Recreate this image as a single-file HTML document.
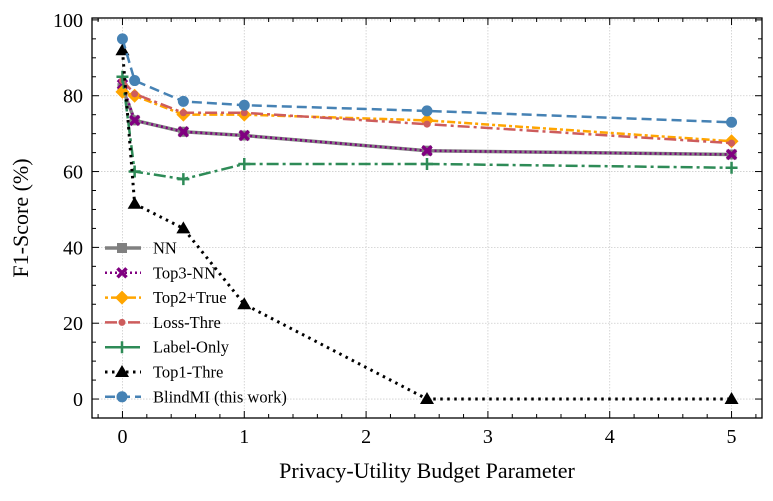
<!DOCTYPE html>
<html><head><meta charset="utf-8"><style>
body{margin:0;background:#fff}
svg text{font-family:"Liberation Serif",serif;fill:#000}
</style></head><body>
<svg id="c" width="773" height="496"></svg>
<script>
const xs=[0,0.1,0.5,1,2.5,5];
const nn=[82,73.5,70.5,69.5,65.5,64.5];
const top3=[83,73.5,70.5,69.5,65.5,64.5];
const top2=[81,80,75,75,73.5,68];
const loss=[84,80.5,75.5,75.5,72.5,67.5];
const labelOnly=[85,60,58,62,62,61];
const top1=[92,51.5,45,25,0,0];
const blind=[95,84,78.5,77.5,76,73];
const xTicks=[0,1,2,3,4,5];
const yTicks=[0,20,40,60,80,100];
const NS="http://www.w3.org/2000/svg";
const svg=document.getElementById('c');
const L=92,R=762,T=18,B=418,x0=-0.25,x1=5.25,y0=-5,y1=100.5;
const X=v=>L+(v-x0)/(x1-x0)*(R-L);
const Y=v=>B-(v-y0)/(y1-y0)*(B-T);
function el(t,a,p){const e=document.createElementNS(NS,t);for(const k in a)e.setAttribute(k,a[k]);(p||svg).appendChild(e);return e;}
const grid=el('g',{});


xTicks.forEach(v=>el('line',{x1:X(v),x2:X(v),y1:T,y2:B,stroke:'#ccc','stroke-width':0.8,'stroke-dasharray':'1.5,1.5'},grid));
yTicks.forEach(v=>el('line',{x1:L,x2:R,y1:Y(v),y2:Y(v),stroke:'#ccc','stroke-width':0.8,'stroke-dasharray':'1.5,1.5'},grid));
const ax=el('g',{});


el('rect',{x:L,y:T,width:R-L,height:B-T,fill:'none',stroke:'#000','stroke-width':1.3},ax);
for(let v=-0.2;v<=5.21;v+=0.2){const big=Math.abs(v-Math.round(v))<1e-6;const len=big?7:4;const xx=X(v);
el('line',{x1:xx,x2:xx,y1:B,y2:B-len,stroke:'#000'},ax);el('line',{x1:xx,x2:xx,y1:T,y2:T+len,stroke:'#000'},ax);}
for(let v=-5;v<=100.1;v+=5){const big=v%20===0;const len=big?7:4;const yy=Y(v);
el('line',{x1:L,x2:L+len,y1:yy,y2:yy,stroke:'#000'},ax);el('line',{x1:R,x2:R-len,y1:yy,y2:yy,stroke:'#000'},ax);}
xTicks.forEach(v=>{const t=el('text',{x:X(v),y:B+25,'text-anchor':'middle','font-size':20},ax);t.textContent=v;

});
yTicks.forEach(v=>{const t=el('text',{x:L-9,y:Y(v)+7,'text-anchor':'end','font-size':20},ax);t.textContent=v;

});
const xt=el('text',{x:(L+R)/2,y:478,'text-anchor':'middle','font-size':22});xt.textContent='Privacy-Utility Budget Parameter';


const yt=el('text',{x:0,y:0,'text-anchor':'middle','font-size':22,transform:`translate(28,${(T+B)/2}) rotate(-90)`});yt.textContent='F1-Score (%)';


function marker(g,m,x,y,c){
 if(m==='s')el('rect',{x:x-5,y:y-5,width:10,height:10,fill:c},g);
 else if(m==='x'){el('path',{d:`M${x-4.5},${y-4.5}L${x+4.5},${y+4.5}M${x+4.5},${y-4.5}L${x-4.5},${y+4.5}`,stroke:c,'stroke-width':3.5},g);}
 else if(m==='D')el('path',{d:`M${x},${y-7}L${x+7},${y}L${x},${y+7}L${x-7},${y}Z`,fill:c},g);
 else if(m==='o')el('circle',{cx:x,cy:y,r:5.5,fill:c},g);
 else if(m==='sm')el('circle',{cx:x,cy:y,r:3.5,fill:c},g);
 else if(m==='+')el('path',{d:`M${x-6},${y}L${x+6},${y}M${x},${y-6}L${x},${y+6}`,stroke:c,'stroke-width':2.5},g);
 else if(m==='^')el('path',{d:`M${x},${y-7}L${x+7},${y+5}L${x-7},${y+5}Z`,fill:c},g);
}
const series=[
 ['NN',nn,'#808080','',  's',3.5,'series-nn'],
 ['Top3-NN',top3,'#800080','2,3','x',2.5,'series-top3-nn'],
 ['Top2+True',top2,'#ffa500','3,3,8,3','D',2.5,'series-top2-true'],
 ['Loss-Thre',loss,'#cd5c5c','12,4,3,4','sm',2.5,'series-loss-thre'],
 ['Label-Only',labelOnly,'#2e8b57','12,4,3,4','+',2.5,'series-label-only'],
 ['Top1-Thre',top1,'#000','2.5,4.5','^',3,'series-top1-thre'],
 ['BlindMI (this work)',blind,'#4682b4','10,5','o',2.5,'series-blindmi']
];
series.forEach((s,i)=>{
 const g=el('g',{});
 
 
 el('polyline',{points:xs.map((v,j)=>X(v)+','+Y(s[1][j])).join(' '),fill:'none',stroke:s[2],'stroke-width':s[5],'stroke-dasharray':s[3]},g);
 xs.forEach((v,j)=>marker(g,s[4],X(v),Y(s[1][j]),s[2]));
 const ly=248+i*24.8;
 const lg=el('g',{});
 
 
 el('line',{x1:105,x2:141,y1:ly,y2:ly,stroke:s[2],'stroke-width':s[5],'stroke-dasharray':s[3]},lg);
 marker(lg,s[4],122,ly,s[2]);
 const t=el('text',{x:153,y:ly+5.5,'font-size':16.5},lg);t.textContent=s[0];
});
</script>
</body></html>
